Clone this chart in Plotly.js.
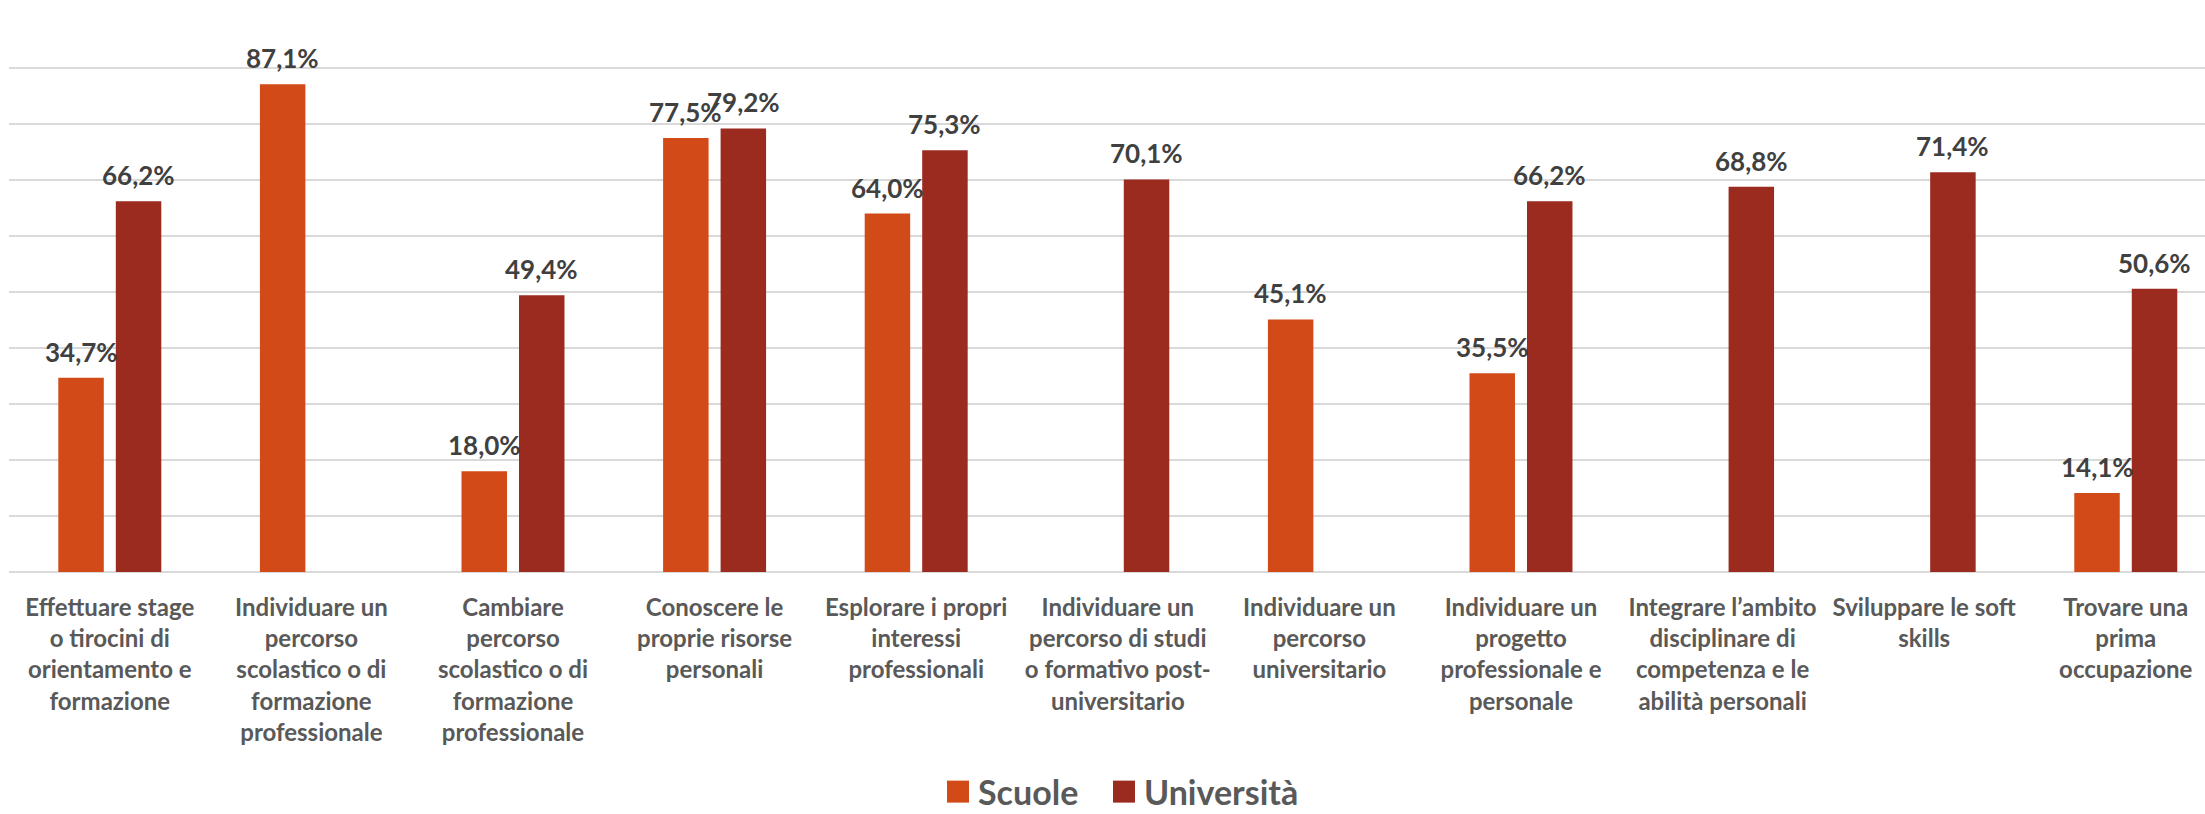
<!DOCTYPE html>
<html>
<head>
<meta charset="utf-8">
<script src="https://cdn.plot.ly/plotly-3.0.1.min.js"></script>
<style>
  html, body { margin: 0; padding: 0; background: #ffffff; }
  #chart { width: 2205px; height: 814px; }
</style>
</head>
<body>
<div id="chart"></div>
<script>
// ---- data ----
const categories = [
  "Effettuare stage o tirocini di orientamento e formazione",
  "Individuare un percorso scolastico o di formazione professionale",
  "Cambiare percorso scolastico o di formazione professionale",
  "Conoscere le proprie risorse personali",
  "Esplorare i propri interessi professionali",
  "Individuare un percorso di studi o formativo post-universitario",
  "Individuare un percorso universitario",
  "Individuare un progetto professionale e personale",
  "Integrare l’ambito disciplinare di competenza e le abilità personali",
  "Sviluppare le soft skills",
  "Trovare una prima occupazione"
];
const tickLabels = [
  "Effettuare stage<br>o tirocini di<br>orientamento e<br>formazione",
  "Individuare un<br>percorso<br>scolastico o di<br>formazione<br>professionale",
  "Cambiare<br>percorso<br>scolastico o di<br>formazione<br>professionale",
  "Conoscere le<br>proprie risorse<br>personali",
  "Esplorare i propri<br>interessi<br>professionali",
  "Individuare un<br>percorso di studi<br>o formativo post-<br>universitario",
  "Individuare un<br>percorso<br>universitario",
  "Individuare un<br>progetto<br>professionale e<br>personale",
  "Integrare l’ambito<br>disciplinare di<br>competenza e le<br>abilità personali",
  "Sviluppare le soft<br>skills",
  "Trovare una<br>prima<br>occupazione"
];
const seriesNames = ["Scuole", "Università"];
const scuole = [34.7, 87.1, 18.0, 77.5, 64.0, null, 45.1, 35.5, null, null, 14.1];
const universita = [66.2, null, 49.4, 79.2, 75.3, 70.1, null, 66.2, 68.8, 71.4, 50.6];
const colors = ["#D24A18", "#9B2B1F"];

// ---- styling ----
const FONT = "Lato, 'Open Sans', sans-serif";
const fmt = v => v.toFixed(1).replace(".", ",") + "%";
const legendWidths = [121, 175];

const seriesValues = [scuole, universita];
const traces = seriesValues.map((vals, i) => ({
  type: "bar",
  name: seriesNames[i],
  x: categories,
  y: vals,
  legendwidth: legendWidths[i],
  marker: { color: colors[i], line: { width: 0 } },
  hoverinfo: "skip"
}));

// data labels as annotations (offset per series slot)
const slotShift = 28.75;
const annotations = [];
seriesValues.forEach((vals, i) => {
  vals.forEach((v, j) => {
    if (v === null) return;
    annotations.push({
      x: categories[j], y: v, xref: "x", yref: "y",
      text: fmt(v), showarrow: false,
      xanchor: "center", yanchor: "bottom",
      xshift: (i === 0 ? -1 : 1) * slotShift, yshift: 8,
      font: { family: FONT, size: 26, color: "#404040", weight: "bold" }
    });
  });
});

const layout = {
  width: 2205, height: 814,
  margin: { l: 9, r: 0, t: 12, b: 242, autoexpand: false },
  paper_bgcolor: "#ffffff", plot_bgcolor: "#ffffff",
  barmode: "group",
  bargap: 0.4296,
  bargroupgap: 0.209,
  showlegend: true,
  legend: {
    orientation: "h",
    xref: "container", yref: "container",
    x: 0.4254, xanchor: "left",
    y: 0.027, yanchor: "middle",
    font: { family: FONT, size: 34, color: "#595959", weight: "bold" },
    itemwidth: 30,
    entrywidthmode: "pixels",
    itemclick: false,
    traceorder: "normal"
  },
  xaxis: {
    type: "category",
    range: [-0.5, 10.393],
    tickvals: categories,
    ticktext: tickLabels,
    tickangle: 0,
    ticks: "",
    ticklabelstandoff: 19,
    tickfont: { family: FONT, size: 24, color: "#595959", weight: "bold" },
    showgrid: false,
    showline: false,
    zeroline: false,
    automargin: false,
    fixedrange: true
  },
  yaxis: {
    range: [0, 100],
    dtick: 10,
    showticklabels: false,
    ticks: "",
    showgrid: true,
    gridcolor: "#D9D9D9",
    gridwidth: 2,
    zeroline: true,
    zerolinecolor: "#D9D9D9",
    zerolinewidth: 2,
    showline: false,
    automargin: false,
    fixedrange: true
  },
  annotations: annotations
};

Plotly.newPlot("chart", traces, layout, { displayModeBar: false, staticPlot: true }).then(() => {
  document.querySelectorAll(".legendpoints path").forEach(p => {
    p.setAttribute("d", "M11,11H-11V-11H11Z");
    p.setAttribute("transform", "translate(20,0)");
  });
});
</script>
</body>
</html>
